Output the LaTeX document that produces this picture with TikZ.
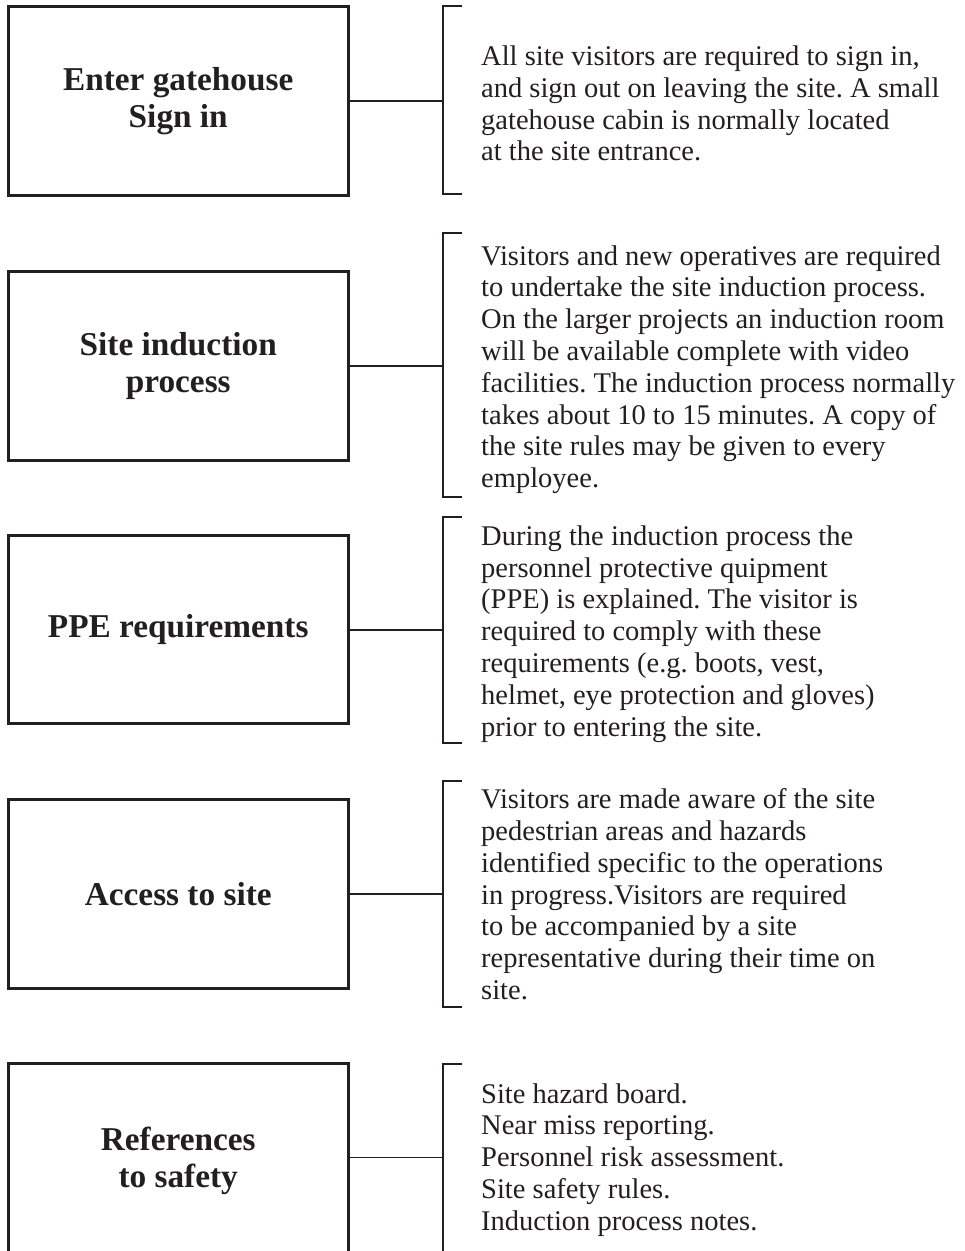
\documentclass[tikz,border=0pt]{standalone}
\usepackage{fontspec}
\setmainfont{Liberation Serif}
\frenchspacing
\definecolor{ink}{RGB}{35,31,32}
\begin{document}
\begin{tikzpicture}[x=1pt,y=-1pt,
  stage/.style={draw=ink, line width=3pt, minimum width=339.5pt, minimum height=188.5pt,
    inner sep=0pt, align=center, text=ink, font=\fontsize{33.3}{37}\selectfont\bfseries},
  note/.style={anchor=base west, inner sep=0pt, align=left, text=ink,
    font=\fontsize{28.5}{31.8}\selectfont},
  link/.style={draw=ink, line width=1.8pt},
  brace/.style={draw=ink, line width=1.8pt}]
\useasboundingbox (0,0) rectangle (965,1251);

% stage boxes down the left column
\node[stage] (b1) at (178.25,100.75) {Enter gatehouse\\Sign in};
\node[stage] (b2) at (178.25,365.75) {Site induction\\process};
\node[stage] (b3) at (178.25,629.7) {PPE requirements};
\node[stage] (b4) at (178.25,894) {Access to site};
\node[stage, minimum height=196pt] (b5) at (178.25,1161.3) {References\\to safety};

% points where each connector meets its bracket
\coordinate (k1) at (443,100.75);
\coordinate (k2) at (443,365.75);
\coordinate (k3) at (443,629.7);
\coordinate (k4) at (443,894);
\coordinate (k5) at (443,1157.5);

% brackets
\draw[brace] (462,6) -| (443,194.3) -- (462,194.3);
\draw[brace] (462,233) -| (443,497) -- (462,497);
\draw[brace] (462,517) -| (443,743) -- (462,743);
\draw[brace] (462,781) -| (443,1007.3) -- (462,1007.3);
\draw[brace] (462,1064) -| (443,1265);

% connectors
\draw[link] (b1.east |- k1) -- (k1);
\draw[link] (b2.east |- k2) -- (k2);
\draw[link] (b3.east |- k3) -- (k3);
\draw[link] (b4.east |- k4) -- (k4);
\draw[link] (b5.east |- k5) -- (k5);

% descriptions (placed by the baseline of their last line)
\node[note] (t1) at (481,160.9) {All site visitors are required to sign in,\\
and sign out on leaving the site. A small\\
gatehouse cabin is normally located\\
at the site entrance.};
\node[note] (t2) at (481,487.6) {Visitors and new operatives are required\\
to undertake the site induction process.\\
On the larger projects an induction room\\
will be available complete with video\\
facilities. The induction process normally\\
takes about 10 to 15 minutes. A copy of\\
the site rules may be given to every\\
employee.};
\node[note] (t3) at (481,736) {During the induction process the\\
personnel protective quipment\\
(PPE) is explained. The visitor is\\
required to comply with these\\
requirements (e.g. boots, vest,\\
helmet, eye protection and gloves)\\
prior to entering the site.};
\node[note] (t4) at (481,999.5) {Visitors are made aware of the site\\
pedestrian areas and hazards\\
identified specific to the operations\\
in progress.Visitors are required\\
to be accompanied by a site\\
representative during their time on\\
site.};
\node[note] (t5) at (481,1230.2) {Site hazard board.\\
Near miss reporting.\\
Personnel risk assessment.\\
Site safety rules.\\
Induction process notes.};
\end{tikzpicture}
\end{document}
